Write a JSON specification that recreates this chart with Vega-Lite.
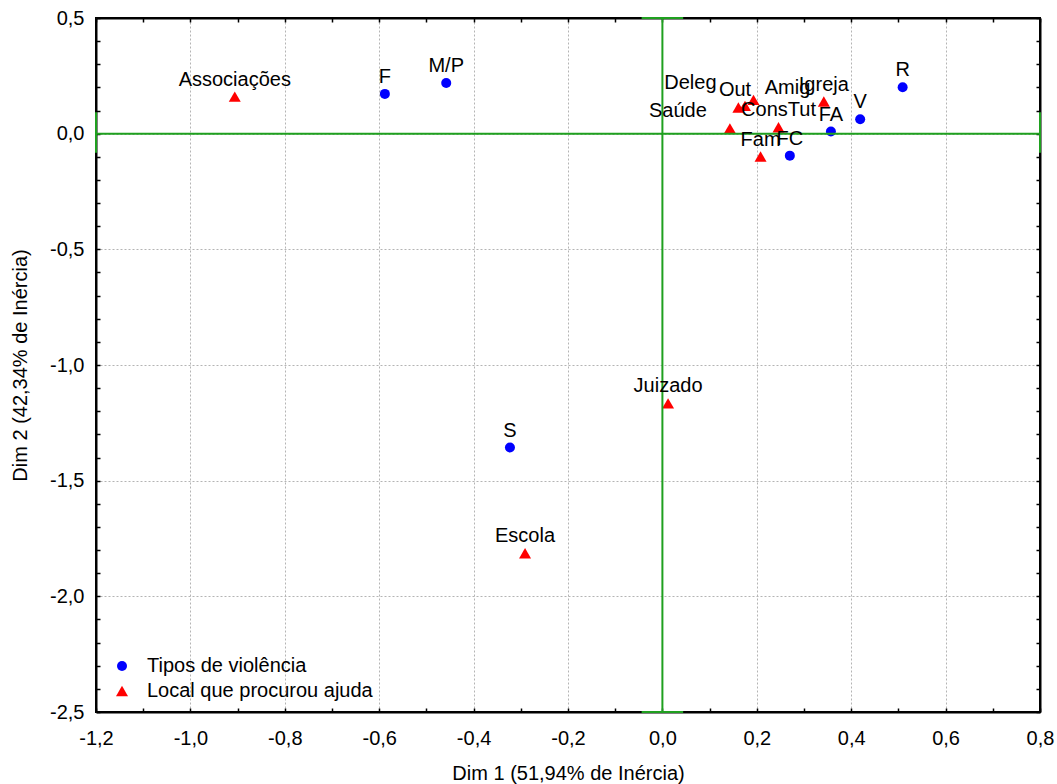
{
  "$schema": "https://vega.github.io/schema/vega-lite/v6.json",
  "width": 944,
  "height": 694,
  "autosize": {"type": "none"},
  "padding": {"left": 96, "top": 18, "right": 17, "bottom": 72},
  "background": "white",
  "config": {
    "font": "Liberation Sans",
    "view": {"stroke": "black", "strokeWidth": 2},
    "axis": {
      "domainColor": "black",
      "domainWidth": 2,
      "tickColor": "black",
      "tickWidth": 1.5,
      "tickSize": -4,
      "labelFont": "Liberation Sans",
      "labelFontSize": 20,
      "labelColor": "black",
      "titleFont": "Liberation Sans",
      "titleFontSize": 20,
      "titleFontWeight": "normal",
      "titleColor": "black",
      "gridColor": "#b4b4b4",
      "gridDash": [2, 2],
      "gridWidth": 1,
      "labelOverlap": false,
      "labelFlush": false
    },
    "legend": {
      "labelFont": "Liberation Sans",
      "labelFontSize": 20,
      "labelColor": "black",
      "labelLimit": 0
    }
  },
  "datasets": {
    "pts": [
      {"label": "F", "group": "Tipos de violência", "x": -0.588, "y": 0.172},
      {"label": "M/P", "group": "Tipos de violência", "x": -0.458, "y": 0.219},
      {"label": "S", "group": "Tipos de violência", "x": -0.323, "y": -1.357},
      {"label": "R", "group": "Tipos de violência", "x": 0.509, "y": 0.201},
      {"label": "V", "group": "Tipos de violência", "x": 0.419, "y": 0.062},
      {"label": "FA", "group": "Tipos de violência", "x": 0.357, "y": 0.009},
      {"label": "FC", "group": "Tipos de violência", "x": 0.270, "y": -0.095},
      {"label": "Associações", "group": "Local que procurou ajuda", "x": -0.906, "y": 0.160},
      {"label": "Juizado", "group": "Local que procurou ajuda", "x": 0.012, "y": -1.166},
      {"label": "Escola", "group": "Local que procurou ajuda", "x": -0.291, "y": -1.814},
      {"label": "Igreja", "group": "Local que procurou ajuda", "x": 0.342, "y": 0.139},
      {"label": "Saúde", "group": "Local que procurou ajuda", "x": 0.143, "y": 0.023},
      {"label": "ConsTut", "group": "Local que procurou ajuda", "x": 0.246, "y": 0.028},
      {"label": "Fam", "group": "Local que procurou ajuda", "x": 0.208, "y": -0.099},
      {"label": "Deleg", "group": "Local que procurou ajuda", "x": 0.161, "y": 0.113},
      {"label": "Out", "group": "Local que procurou ajuda", "x": 0.175, "y": 0.120},
      {"label": "Amig", "group": "Local que procurou ajuda", "x": 0.193, "y": 0.146}
    ],
    "cross": [
      {"x": 0, "x2": 0, "y": -2.5, "y2": 0.5},
      {"x": -0.044, "x2": 0.044, "y": 0.5, "y2": 0.5},
      {"x": -0.044, "x2": 0.044, "y": -2.5, "y2": -2.5},
      {"x": -1.2, "x2": 0.8, "y": 0, "y2": 0},
      {"x": -1.2, "x2": -1.2, "y": -0.083, "y2": 0.093},
      {"x": 0.8, "x2": 0.8, "y": -0.083, "y2": 0.093}
    ]
  },
  "resolve": {"axis": {"x": "independent", "y": "independent"}},
  "layer": [
    {
      "data": {"name": "pts"},
      "mark": {"type": "point", "filled": true, "opacity": 1},
      "encoding": {
        "x": {
          "field": "x", "type": "quantitative",
          "scale": {"domain": [-1.2, 0.8], "nice": false, "zero": false},
          "axis": {
            "orient": "bottom",
            "title": "Dim 1 (51,94% de Inércia)",
            "titleX": 472, "titleY": 61, "titleBaseline": "middle", "titleAnchor": "middle",
            "values": [-1.2, -1.1, -1.0, -0.9, -0.8, -0.7, -0.6, -0.5, -0.4, -0.3, -0.2, -0.1, 0, 0.1, 0.2, 0.3, 0.4, 0.5, 0.6, 0.7, 0.8],
            "labelExpr": "abs(round(datum.value*10)) % 2 == 0 ? replace(replace(format(datum.value, '.1f'), '.', ','), '\u2212', '-') : ''",
            "labelPadding": 20,
            "grid": true,
            "gridOpacity": {"condition": {"test": "abs(round(datum.value*10)) % 2 != 0", "value": 0}, "value": 1}
          }
        },
        "y": {
          "field": "y", "type": "quantitative",
          "scale": {"domain": [-2.5, 0.5], "nice": false, "zero": false},
          "axis": {
            "orient": "left",
            "title": "Dim 2 (42,34% de Inércia)",
            "titleX": -76, "titleY": 347, "titleBaseline": "middle", "titleAnchor": "middle",
            "values": [-2.5, -2.4, -2.3, -2.2, -2.1, -2.0, -1.9, -1.8, -1.7, -1.6, -1.5, -1.4, -1.3, -1.2, -1.1, -1.0, -0.9, -0.8, -0.7, -0.6, -0.5, -0.4, -0.3, -0.2, -0.1, 0, 0.1, 0.2, 0.3, 0.4, 0.5],
            "labelExpr": "abs(round(datum.value*10)) % 5 == 0 ? replace(replace(format(datum.value, '.1f'), '.', ','), '\u2212', '-') : ''",
            "labelPadding": 16,
            "grid": true,
            "gridOpacity": {"condition": {"test": "abs(round(datum.value*10)) % 5 != 0", "value": 0}, "value": 1}
          }
        },
        "color": {
          "field": "group", "type": "nominal",
          "scale": {"domain": ["Tipos de violência", "Local que procurou ajuda"], "range": ["#0000ff", "#ff0000"]},
          "legend": {
            "title": null, "orient": "none", "legendX": 16, "legendY": 638,
            "padding": 0, "labelOffset": 15, "rowPadding": 5, "symbolStrokeWidth": 0
          }
        },
        "shape": {
          "field": "group", "type": "nominal",
          "scale": {"domain": ["Tipos de violência", "Local que procurou ajuda"], "range": ["circle", "triangle-up"]}
        },
        "size": {
          "field": "group", "type": "nominal",
          "scale": {"domain": ["Tipos de violência", "Local que procurou ajuda"], "range": [100, 144]}
        }
      }
    },
    {
      "data": {"name": "cross"},
      "mark": {"type": "rule", "color": "#1fa01f", "strokeWidth": 2},
      "encoding": {
        "x": {
          "field": "x", "type": "quantitative",
          "axis": {
            "orient": "top", "title": null, "labels": false, "grid": false,
            "values": [-1.2, -1.1, -1.0, -0.9, -0.8, -0.7, -0.6, -0.5, -0.4, -0.3, -0.2, -0.1, 0, 0.1, 0.2, 0.3, 0.4, 0.5, 0.6, 0.7, 0.8]
          }
        },
        "x2": {"field": "x2"},
        "y": {
          "field": "y", "type": "quantitative",
          "axis": {
            "orient": "right", "title": null, "labels": false, "grid": false,
            "values": [-2.5, -2.4, -2.3, -2.2, -2.1, -2.0, -1.9, -1.8, -1.7, -1.6, -1.5, -1.4, -1.3, -1.2, -1.1, -1.0, -0.9, -0.8, -0.7, -0.6, -0.5, -0.4, -0.3, -0.2, -0.1, 0, 0.1, 0.2, 0.3, 0.4, 0.5]
          }
        },
        "y2": {"field": "y2"}
      }
    },
    {
      "data": {"name": "pts"},
      "transform": [{"filter": "indexof(['Deleg','Out','Amig','Saúde'], datum.label) < 0"}],
      "mark": {"type": "text", "fontSize": 20, "font": "Liberation Sans", "color": "black", "align": "center", "baseline": "middle", "dy": -17},
      "encoding": {
        "x": {"field": "x", "type": "quantitative", "axis": null},
        "y": {"field": "y", "type": "quantitative", "axis": null},
        "text": {"field": "label"}
      }
    },
    {
      "data": {"name": "pts"},
      "transform": [{"filter": "datum.label == 'Deleg'"}],
      "mark": {"type": "text", "fontSize": 20, "font": "Liberation Sans", "color": "black", "align": "center", "baseline": "middle", "dx": -48, "dy": -25},
      "encoding": {
        "x": {"field": "x", "type": "quantitative", "axis": null},
        "y": {"field": "y", "type": "quantitative", "axis": null},
        "text": {"field": "label"}
      }
    },
    {
      "data": {"name": "pts"},
      "transform": [{"filter": "datum.label == 'Out'"}],
      "mark": {"type": "text", "fontSize": 20, "font": "Liberation Sans", "color": "black", "align": "center", "baseline": "middle", "dx": -10, "dy": -16},
      "encoding": {
        "x": {"field": "x", "type": "quantitative", "axis": null},
        "y": {"field": "y", "type": "quantitative", "axis": null},
        "text": {"field": "label"}
      }
    },
    {
      "data": {"name": "pts"},
      "transform": [{"filter": "datum.label == 'Amig'"}],
      "mark": {"type": "text", "fontSize": 20, "font": "Liberation Sans", "color": "black", "align": "center", "baseline": "middle", "dx": 34, "dy": -12},
      "encoding": {
        "x": {"field": "x", "type": "quantitative", "axis": null},
        "y": {"field": "y", "type": "quantitative", "axis": null},
        "text": {"field": "label"}
      }
    },
    {
      "data": {"name": "pts"},
      "transform": [{"filter": "datum.label == 'Saúde'"}],
      "mark": {"type": "text", "fontSize": 20, "font": "Liberation Sans", "color": "black", "align": "center", "baseline": "middle", "dx": -52, "dy": -17},
      "encoding": {
        "x": {"field": "x", "type": "quantitative", "axis": null},
        "y": {"field": "y", "type": "quantitative", "axis": null},
        "text": {"field": "label"}
      }
    }
  ]
}
